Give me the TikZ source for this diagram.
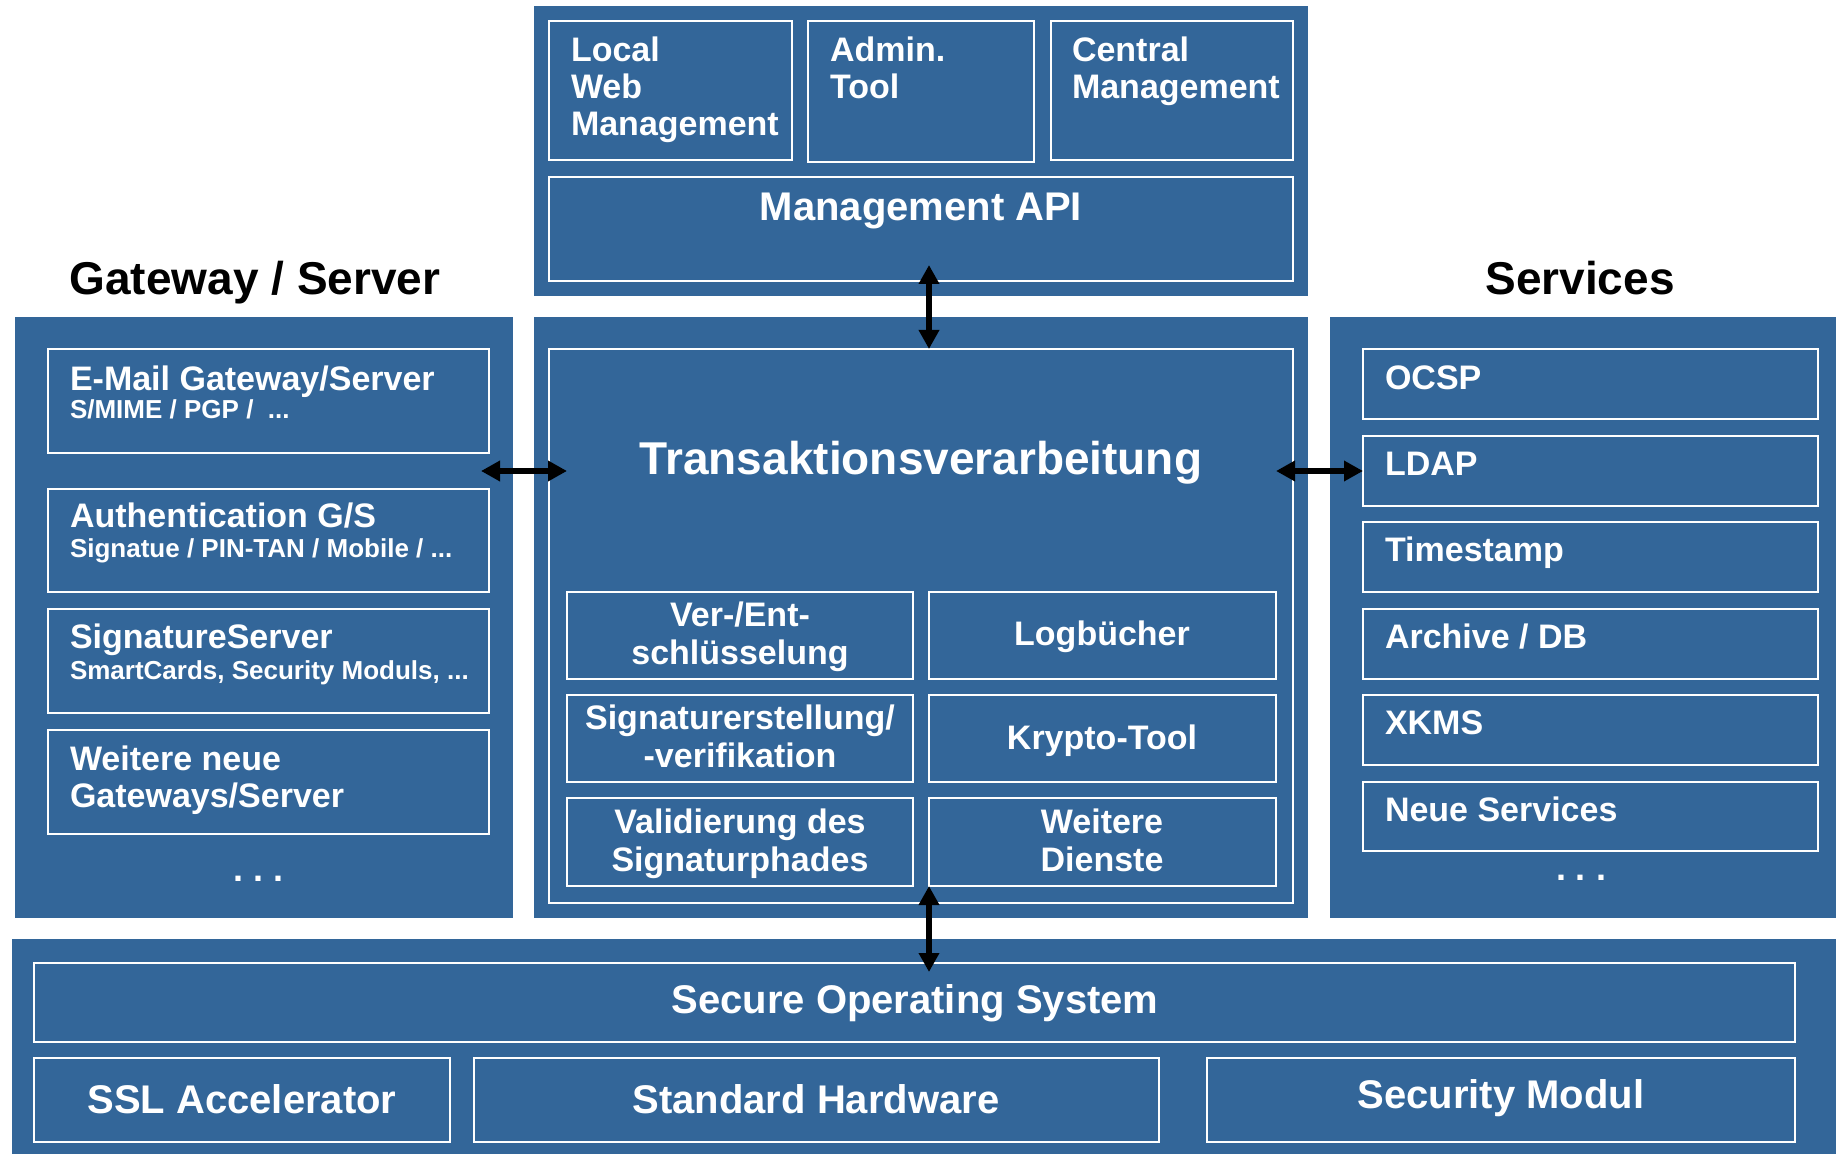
\documentclass[tikz,border=0pt]{standalone}
\usepackage{fontspec}
\setmainfont{Liberation Sans}
\usetikzlibrary{arrows.meta,fit}
\definecolor{panelblue}{RGB}{51,102,153}
\newcommand\LeftLines[1]{\vtop{\halign{##\hfil\cr #1\crcr}}}
\newcommand\CenterLines[1]{\vtop{\halign{\hfil##\hfil\cr #1\crcr}}}
\begin{document}
\begin{tikzpicture}[x=0.5pt,y=-0.5pt,
  panel/.style={fill=panelblue, draw=none, inner sep=0pt, outer sep=0pt},
  box/.style={draw=white, line width=1.35pt, inner sep=0pt, outer sep=0pt},
  wt/.style={text=white, inner sep=0pt, outer sep=0pt, font=\bfseries\fontsize{17}{18.5}\selectfont},
  wtmid/.style={wt, font=\bfseries\fontsize{17}{19}\selectfont},
  wtsub/.style={wt, font=\bfseries\fontsize{13}{15}\selectfont},
  wtbig/.style={wt, font=\bfseries\fontsize{20}{22}\selectfont},
  title/.style={text=black, inner sep=0pt, font=\bfseries\fontsize{23}{26}\selectfont},
  biarrow/.style={{Triangle[length=9.5pt,width=9.8pt]}-{Triangle[length=9.5pt,width=9.8pt]}, line width=3pt, draw=black}
]
\fill[white] (0,0) rectangle (1836,1154);
\useasboundingbox (0,0) rectangle (1836,1154);

% panels
\node[panel, fit={(534,6) (1308,296)}] (ptop) {};
\node[panel, fit={(15,317) (513,918)}] (pleft) {};
\node[panel, fit={(534,317) (1308,918)}] (pmid) {};
\node[panel, fit={(1330,317) (1836,918)}] (pright) {};
\node[panel, fit={(12,939) (1836,1154)}] (pbottom) {};

% titles
\node[title, anchor=base] (tgw) at (255,295) {Gateway / Server};
\node[title, anchor=base] (tsv) at (1580,295) {Services};

% top boxes
\node[box, fit={(549,21) (792,160)}] (local) {};
\node[box, fit={(808,21) (1034,162)}] (admin) {};
\node[box, fit={(1051,21) (1293,160)}] (central) {};
\node[box, fit={(549,177) (1293,281)}] (api) {};
\node[wt, anchor=base west] (tlocal) at (571,62) {\LeftLines{Local\cr Web\cr Management}};
\node[wt, anchor=base west] (tadmin) at (830,62) {\LeftLines{Admin.\cr Tool}};
\node[wt, anchor=base west] (tcentral) at (1072,62) {\LeftLines{Central\cr Management}};
\node[wtbig, anchor=base] (tapi) at (921,221) {Management API};

% left boxes
\node[box, fit={(48,349) (489,453)}] (email) {};
\node[box, fit={(48,489) (489,592)}] (auth) {};
\node[box, fit={(48,609) (489,713)}] (sigsrv) {};
\node[box, fit={(48,730) (489,834)}] (weitere) {};
\node[wt, anchor=base west] (temail) at (70,391) {E-Mail Gateway/Server};
\node[wtsub, anchor=base west] (semail) at (70,419) {S/MIME / PGP /\ \ ...};
\node[wt, anchor=base west] (tauth) at (70,528) {Authentication G/S};
\node[wtsub, anchor=base west] (sauth) at (70,558) {Signatue / PIN-TAN / Mobile / ...};
\node[wt, anchor=base west] (tsigsrv) at (70,648) {SignatureServer};
\node[wtsub, anchor=base west] (ssigsrv) at (70,679) {SmartCards, Security Moduls, ...};
\node[wt, anchor=base west] (tweitere) at (70,770) {\LeftLines{Weitere neue\cr Gateways/Server}};
\node[wt, anchor=base, font=\bfseries\fontsize{18}{20}\selectfont] (ldots) at (259,881) {.\ .\ .};

% middle
\node[box, fit={(549,349) (1293,903)}] (trans) {};
\node[title, text=white, anchor=base] (ttrans) at (921,475) {Transaktionsverarbeitung};
\node[box, fit={(567,592) (913,679)}] (ver) {};
\node[box, fit={(929,592) (1276,679)}] (log) {};
\node[box, fit={(567,695) (913,782)}] (sig) {};
\node[box, fit={(929,695) (1276,782)}] (krypto) {};
\node[box, fit={(567,798) (913,886)}] (valid) {};
\node[box, fit={(929,798) (1276,886)}] (dienste) {};
\node[wtmid, anchor=base] (tver) at (740,626) {\CenterLines{Ver-/Ent-\cr schlüsselung}};
\node[wtmid, anchor=base] (tlog) at (1102,646) {Logbücher};
\node[wtmid, anchor=base] (tsig) at (740,729) {\CenterLines{Signaturerstellung/\cr -verifikation}};
\node[wtmid, anchor=base] (tkrypto) at (1102,749) {Krypto-Tool};
\node[wtmid, anchor=base] (tvalid) at (740,833) {\CenterLines{Validierung des\cr Signaturphades}};
\node[wtmid, anchor=base] (tdienste) at (1102,833) {\CenterLines{Weitere\cr Dienste}};

% right boxes
\node[box, fit={(1363,349) (1818,419)}] (ocsp) {};
\node[box, fit={(1363,436) (1818,506)}] (ldap) {};
\node[box, fit={(1363,522) (1818,592)}] (ts) {};
\node[box, fit={(1363,609) (1818,679)}] (arch) {};
\node[box, fit={(1363,695) (1818,765)}] (xkms) {};
\node[box, fit={(1363,782) (1818,851)}] (neue) {};
\node[wt, anchor=base west] (tocsp) at (1385,390) {OCSP};
\node[wt, anchor=base west] (tldap) at (1385,476) {LDAP};
\node[wt, anchor=base west] (tts) at (1385,562) {Timestamp};
\node[wt, anchor=base west] (tarch) at (1385,648) {Archive / DB};
\node[wt, anchor=base west] (txkms) at (1385,734) {XKMS};
\node[wt, anchor=base west] (tneue) at (1385,821) {Neue Services};
\node[wt, anchor=base, font=\bfseries\fontsize{18}{20}\selectfont] (rdots) at (1581,880) {.\ .\ .};

% bottom
\node[box, fit={(34,963) (1795,1042)}] (sos) {};
\node[box, fit={(34,1058) (450,1142)}] (ssl) {};
\node[box, fit={(474,1058) (1159,1142)}] (stdhw) {};
\node[box, fit={(1207,1058) (1795,1142)}] (secmod) {};
\node[wtbig, anchor=base] (tsos) at (915,1013) {Secure Operating System};
\node[wtbig, anchor=base] (tssl) at (242,1113) {SSL Accelerator};
\node[wtbig, anchor=base] (tstdhw) at (816,1113) {Standard Hardware};
\node[wtbig, anchor=base] (tsecmod) at (1501,1108) {Security Modul};

% arrow ends
\coordinate (apiend) at (929,265);
\coordinate (leftend) at (481,471);
\coordinate (midleft) at (567,471);
\coordinate (midright) at (1276,471);
\coordinate (sosend) at (929,972);

% connectors
\draw[biarrow] (apiend) -- (log.west |- trans.north);
\draw[biarrow] (leftend) -- (midleft);
\draw[biarrow] (midright) -- (ldap.west);
\draw[biarrow] (log.west |- dienste.south) -- (sosend);
\end{tikzpicture}
\end{document}
